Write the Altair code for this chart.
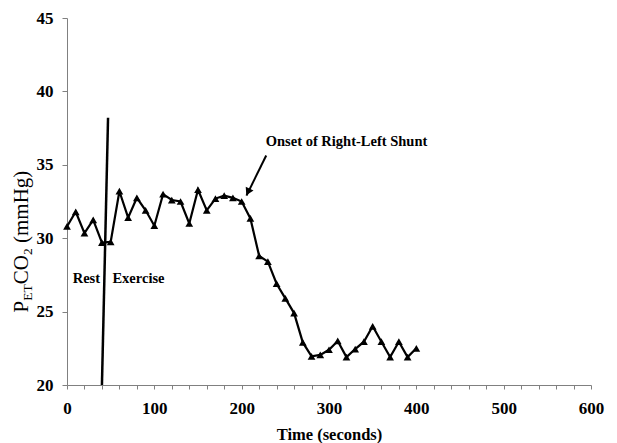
import altair as alt
import pandas as pd

# ---- data ----
time_s = [0, 10, 20, 30, 40, 50, 60, 70, 80, 90, 100, 110, 120, 130, 140, 150,
          160, 170, 180, 190, 200, 210, 220, 230, 240, 250, 260, 270, 280, 290,
          300, 310, 320, 330, 340, 350, 360, 370, 380, 390, 400]
petco2 = [30.8, 31.8, 30.35, 31.25, 29.7, 29.75, 33.2, 31.4, 32.75, 31.9, 30.85,
          33.0, 32.6, 32.5, 31.0, 33.3, 31.9, 32.7, 32.9, 32.75, 32.5, 31.35,
          28.8, 28.4, 26.9, 25.9, 24.9, 22.9, 21.95, 22.05, 22.4, 23.0, 21.9,
          22.45, 22.95, 24.0, 22.95, 21.9, 22.95, 21.9, 22.5]

x_ticks = list(range(0, 601, 20))
y_ticks = [20, 25, 30, 35, 40, 45]

# exercise onset line
ex_t = [40]
ex_t2 = [47]
ex_lo = [20]
ex_hi = [38.2]

# annotations
ann_text = ["Rest", "Exercise", "Onset of Right-Left Shunt"]
ann_t = [6.5, 52, 227.6]
ann_v = [27.25, 27.25, 36.55]

arrow_t = [228.1]
arrow_v = [35.63]
arrow_t2 = [205.5]
arrow_v2 = [32.9]
head_t = [207.2]
head_v = [33.15]

FONT = "Liberation Serif"

xscale = alt.Scale(domain=[0, 600], nice=False, zero=False)
yscale = alt.Scale(domain=[20, 45], nice=False, zero=False)

x_axis = alt.Axis(values=x_ticks, title="Time (seconds)",
                  labelExpr="datum.value % 100 === 0 ? datum.label : ''",
                  grid=False, tickSize=4, labelPadding=11,
                  labelFont=FONT, labelFontSize=17, labelFontWeight="bold",
                  labelColor="black", titleFont=FONT, titleFontSize=16.5,
                  titleFontWeight="bold", titleColor="black",
                  titlePadding=10, domainColor="#808080",
                  tickColor="#808080", labelFlush=False,
                  labelOverlap=False)
y_axis = alt.Axis(values=y_ticks, title=None, grid=False, tickSize=5,
                  labelPadding=9, labelFont=FONT, labelFontSize=17,
                  labelFontWeight="bold", labelColor="black",
                  domainColor="#808080", tickColor="#808080",
                  labelFlush=False, labelOverlap=False)

X = alt.X("t:Q", scale=xscale, axis=x_axis)
Y = alt.Y("v:Q", scale=yscale, axis=y_axis)

df = pd.DataFrame({"t": time_s, "v": petco2})
base = alt.Chart(df)

line = base.mark_line(color="black", strokeWidth=2.2).encode(x=X, y=Y)

pts = base.mark_point(shape="triangle-up", filled=True, color="black",
                      size=60, opacity=1).encode(x=X, y=Y)

ex_df = pd.DataFrame({"t": ex_t, "t2": ex_t2, "v": ex_lo, "v2": ex_hi})
ex_line = alt.Chart(ex_df).mark_rule(color="black", strokeWidth=2.5).encode(
    x=X, x2="t2:Q", y=Y, y2="v2:Q")

ann_df = pd.DataFrame({"text": ann_text, "t": ann_t, "v": ann_v})
ann = alt.Chart(ann_df).mark_text(font=FONT, fontSize=14.5, fontWeight="bold",
                                  align="left", baseline="middle",
                                  color="black").encode(x=X, y=Y, text="text:N")

arr_df = pd.DataFrame({"t": arrow_t, "v": arrow_v, "t2": arrow_t2, "v2": arrow_v2})
arrow = alt.Chart(arr_df).mark_rule(color="black", strokeWidth=2).encode(
    x=X, x2="t2:Q", y=Y, y2="v2:Q")
head_df = pd.DataFrame({"t": head_t, "v": head_v})
head = alt.Chart(head_df).mark_point(shape="triangle-up", filled=True,
                                     color="black", size=75, angle=206.6,
                                     opacity=1).encode(x=X, y=Y)

# y-axis title with subscripts, built from pieces
one = pd.DataFrame({"a": [0]})
title_pieces = [
    # text, fontSize, x, y
    ("P", 21, -39.5, 294.5),
    ("ET", 13.5, -35.5, 282.8),
    ("CO", 21, -39.5, 266.3),
    ("2", 13.5, -35.5, 237.1),
    ("(mmHg)", 21, -39.5, 225.0),
]
title_layers = []
for txt, fs, px, py in title_pieces:
    title_layers.append(
        alt.Chart(one).mark_text(text=txt, font=FONT, fontSize=fs, angle=270,
                                 align="left", baseline="alphabetic",
                                 color="black").encode(
            x=alt.value(px), y=alt.value(py))
    )

chart = alt.layer(line, ex_line, pts, ann, arrow, head, *title_layers).properties(
    width=524, height=367,
    autosize=alt.AutoSizeParams(type="none"),
    padding={"left": 59, "top": 10, "right": 18, "bottom": 58},
).configure_view(stroke=None)

chart.save("out.html", embed_options={"renderer": "svg", "actions": False})
